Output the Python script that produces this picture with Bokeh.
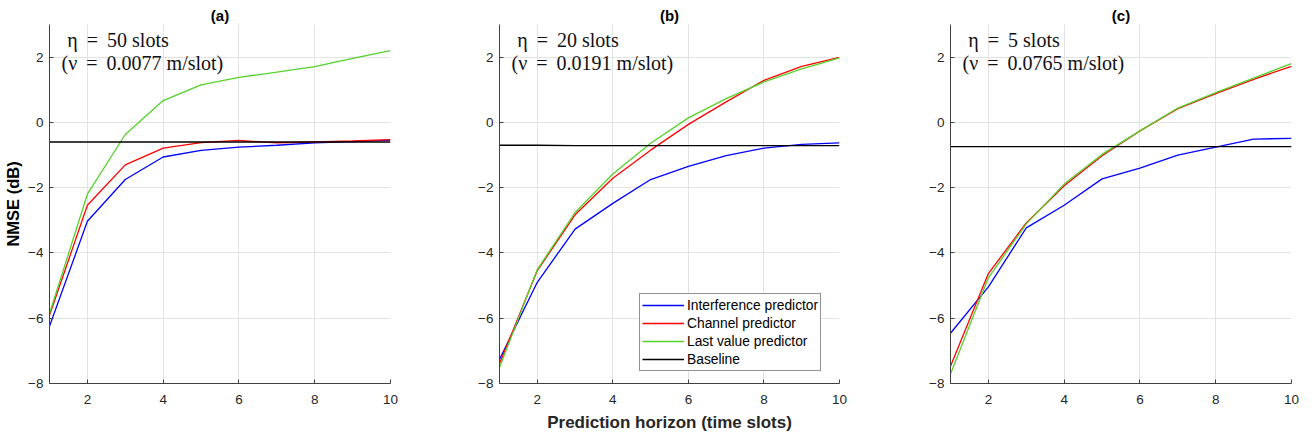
from bokeh.plotting import figure
from bokeh.layouts import row
from bokeh.models import Range1d, FixedTicker, Label, Legend, LegendItem
from bokeh.embed import file_html
from bokeh.resources import INLINE

horizon = [1, 2, 3, 4, 5, 6, 7, 8, 9, 10]

# Panel (a): eta = 50 slots
a_interf = [-6.25, -3.03, -1.75, -1.06, -0.86, -0.76, -0.70, -0.63, -0.59, -0.54]
a_channel = [-5.91, -2.54, -1.30, -0.79, -0.62, -0.55, -0.63, -0.60, -0.57, -0.53]
a_last = [-5.86, -2.20, -0.37, 0.67, 1.15, 1.38, 1.54, 1.71, 1.96, 2.20]
a_base = [-0.60, -0.60, -0.60, -0.60, -0.60, -0.60, -0.60, -0.60, -0.60, -0.60]

# Panel (b): eta = 20 slots
b_interf = [-7.26, -4.90, -3.27, -2.48, -1.75, -1.35, -1.02, -0.79, -0.67, -0.63]
b_channel = [-7.39, -4.54, -2.83, -1.71, -0.85, -0.06, 0.63, 1.29, 1.72, 1.99]
b_last = [-7.51, -4.51, -2.76, -1.58, -0.64, 0.14, 0.73, 1.24, 1.64, 1.98]
b_base = [-0.70, -0.70, -0.71, -0.71, -0.71, -0.71, -0.71, -0.71, -0.71, -0.71]

# Panel (c): eta = 5 slots
c_interf = [-6.46, -5.04, -3.23, -2.54, -1.73, -1.40, -1.00, -0.76, -0.51, -0.49]
c_channel = [-7.47, -4.63, -3.08, -1.94, -1.02, -0.26, 0.42, 0.88, 1.32, 1.72]
c_last = [-7.71, -4.76, -3.11, -1.89, -0.98, -0.26, 0.44, 0.91, 1.36, 1.80]
c_base = [-0.74, -0.74, -0.74, -0.74, -0.74, -0.74, -0.74, -0.74, -0.74, -0.74]

titles = ["(a)", "(b)", "(c)"]
eta_labels = ["\u03b7 \u2009=\u2009 50 slots", "\u03b7 \u2009=\u2009 20 slots", "\u03b7 \u2009=\u2009 5 slots"]
nu_labels = ["(\u03bd \u2009=\u2009 0.0077 m/slot)", "(\u03bd \u2009=\u2009 0.0191 m/slot)", "(\u03bd \u2009=\u2009 0.0765 m/slot)"]
series_names = ["Interference predictor", "Channel predictor", "Last value predictor", "Baseline"]
series_colors = ["#0000ff", "#ff0000", "#55d22a", "#000000"]
x_ticks = [2, 4, 6, 8, 10]
y_ticks = [-8, -6, -4, -2, 0, 2]

panels = [
    (a_interf, a_channel, a_last, a_base),
    (b_interf, b_channel, b_last, b_base),
    (c_interf, c_channel, c_last, c_base),
]

# layout geometry (pixel borders only)
widths = [440, 440, 436]
borders_l = [49, 59, 70]
borders_r = [50, 41, 25]

figs = []
for i, data in enumerate(panels):
    p = figure(width=widths[i], height=441, output_backend="svg", toolbar_location=None,
               x_range=Range1d(1, 10), y_range=Range1d(-8, 3),
               min_border_left=borders_l[i], min_border_right=borders_r[i],
               min_border_top=24, min_border_bottom=58)
    p.title.text = titles[i]
    p.title.align = "center"
    p.title.text_font = "Liberation Sans"
    p.title.text_font_size = "15px"
    p.title.text_font_style = "bold"
    p.title.text_color = "#000000"
    p.title.standoff = 1
    p.outline_line_color = None
    p.background_fill_color = "white"
    p.border_fill_color = "white"

    for ax in (p.xaxis[0], p.yaxis[0]):
        ax.axis_line_color = "#404040"
        ax.major_tick_line_color = "#404040"
        ax.major_tick_in = 4
        ax.major_tick_out = 0
        ax.minor_tick_line_color = None
        ax.major_label_text_font = "Liberation Sans"
        ax.major_label_text_font_size = "13.5px"
        ax.major_label_text_color = "#262626"
    p.xaxis.ticker = FixedTicker(ticks=x_ticks)
    p.yaxis.ticker = FixedTicker(ticks=y_ticks)
    p.xaxis.major_label_standoff = 11
    p.yaxis.major_label_standoff = 6
    p.xgrid.ticker = FixedTicker(ticks=x_ticks)
    p.ygrid.ticker = FixedTicker(ticks=y_ticks)
    p.grid.grid_line_color = "#e3e3e3"
    p.grid.grid_line_width = 1

    if i == 0:
        p.yaxis.axis_label = "NMSE (dB)"
        p.yaxis.axis_label_text_font = "Liberation Sans"
        p.yaxis.axis_label_text_font_size = "16.5px"
        p.yaxis.axis_label_text_font_style = "bold"
        p.yaxis.axis_label_text_color = "#000000"
        p.yaxis.axis_label_standoff = 3
    if i == 1:
        p.xaxis.axis_label = "Prediction horizon (time slots)"
        p.xaxis.axis_label_text_font = "Liberation Sans"
        p.xaxis.axis_label_text_font_size = "17px"
        p.xaxis.axis_label_text_font_style = "bold"
        p.xaxis.axis_label_text_color = "#262626"
        p.xaxis.axis_label_standoff = 6

    renderers = []
    for vals, col in zip(data, series_colors):
        r = p.line(horizon, vals, line_color=col, line_width=1.3)
        renderers.append(r)

    p.add_layout(Label(x=1.47, y=2.54, text=eta_labels[i], text_font="Liberation Serif",
                       text_font_size="20px", text_baseline="middle", text_color="#111111"))
    p.add_layout(Label(x=1.32, y=1.82, text=nu_labels[i], text_font="Liberation Serif",
                       text_font_size="20px", text_baseline="middle", text_color="#111111"))

    if i == 1:
        legend = Legend(items=[LegendItem(label=n, renderers=[r]) for n, r in zip(series_names, renderers)],
                        location=(140, 12))
        legend.label_text_font = "Liberation Sans"
        legend.label_text_font_size = "13.8px"
        legend.label_text_color = "#000000"
        legend.glyph_width = 42
        legend.glyph_height = 18
        legend.label_height = 18
        legend.label_standoff = 3
        legend.spacing = 0
        legend.padding = 2
        legend.margin = 0
        legend.border_line_color = "#262626"
        legend.border_line_width = 1
        legend.background_fill_alpha = 1.0
        p.add_layout(legend)
    figs.append(p)

layout = row(*figs)
open("out.html", "w").write(file_html(layout, INLINE))
